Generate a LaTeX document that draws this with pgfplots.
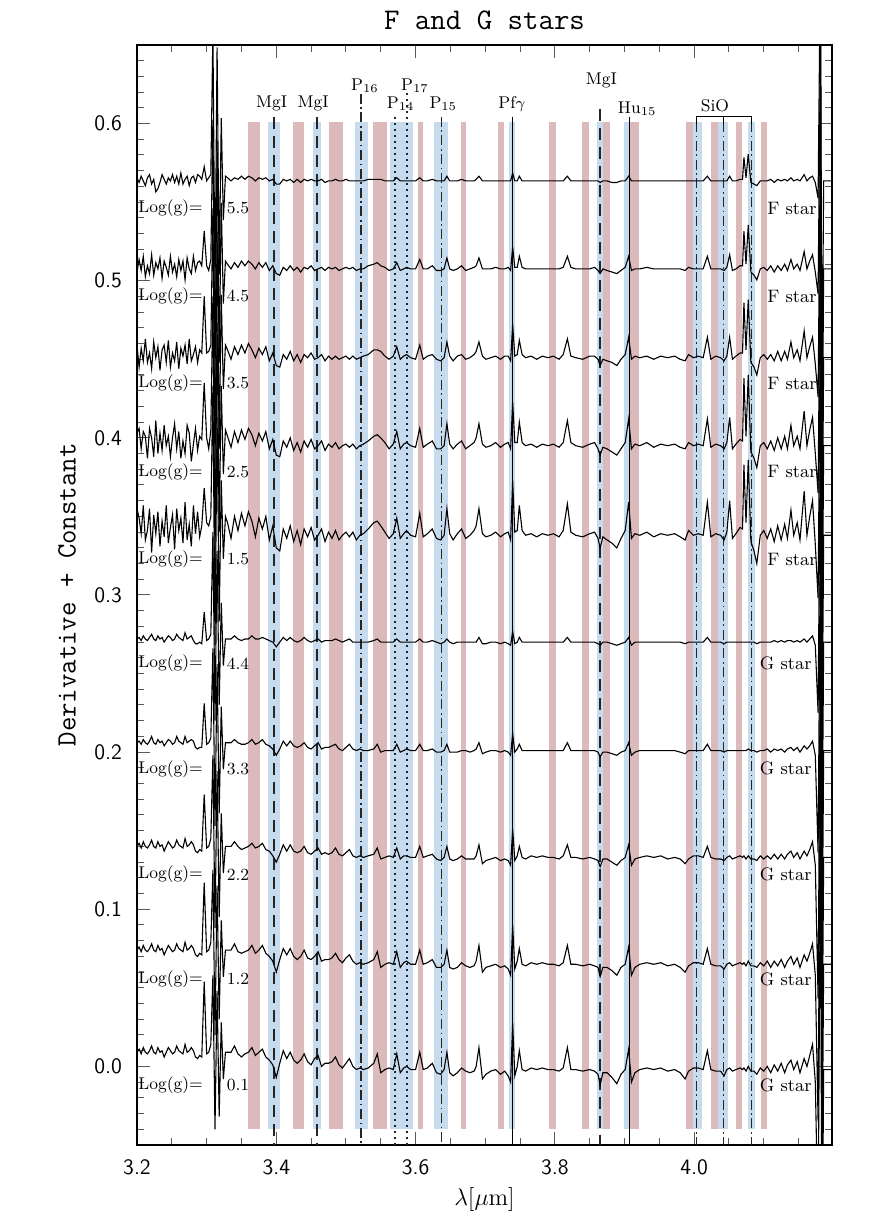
\documentclass[border=0pt]{standalone}
\usepackage{pgfplots}
\pgfplotsset{compat=1.18}
\usepackage{pgfplotstable}
\usetikzlibrary{calc}
\definecolor{bandP}{RGB}{220,185,187}
\definecolor{bandB}{RGB}{198,219,238}
\tikzset{
 dashL/.style={dash pattern=on 6pt off 3.5pt, line width=0.8pt},
 dashdotL/.style={dash pattern=on 5pt off 1.8pt on 0.8pt off 1.8pt, line width=0.8pt},
 dotL/.style={dash pattern=on 1pt off 2pt, line width=0.9pt},
}
% deviations in units of 0.001 (Derivative), constant offsets added per spectrum
\pgfplotstableread{
x f55 f45 f35 f25 f15 g44 g33 g22 g12 g01
3.200 2 -2 8 8 17 2 5 7 9 11
3.203 -1 6 -6 11 11 3 6 9 11 13
3.206 3 -1 6 -2 1 1 4 6 8 10
3.209 0 8 -2 9 19 4 7 10 12 14
3.212 -3 -5 12 6 -3 2 5 7 9 11
3.215 2 2 -3 -8 3 1 4 6 8 10
3.218 4 -3 3 11 17 3 6 8 10 12
3.221 -2 9 -7 5 -11 5 9 11 13 15
3.224 1 -4 10 -7 13 2 5 7 9 11
3.227 -7 4 0 16 1 1 4 6 8 10
3.230 -5 0 7 -5 15 4 7 10 12 14
3.233 -1 7 -8 8 -7 2 5 7 9 11
3.236 4 -6 5 -3 9 3 6 8 10 12
3.239 1 5 8 13 -1 0 3 4 6 8
3.242 -2 1 -3 0 19 2 5 7 9 11
3.245 2 -4 11 6 -5 4 7 10 12 14
3.248 0 8 -6 -7 5 3 6 8 10 12
3.251 4 -2 3 5 13 1 4 6 8 10
3.254 -1 3 -2 14 -9 2 5 7 9 11
3.257 3 -5 10 -2 17 5 9 11 13 15
3.260 -2 6 -7 9 3 3 6 8 10 12
3.263 5 -1 6 -8 11 2 5 7 9 11
3.266 -2 5 1 3 -5 1 4 6 8 10
3.269 1 -7 8 -5 21 6 9 12 14 16
3.272 3 7 -4 13 -3 2 5 7 9 11
3.275 -3 0 12 8 7 3 6 8 10 12
3.278 2 -3 -2 -10 -7 4 7 10 12 14
3.281 3 8 2 1 19 1 6 8 10 12
3.284 -1 -1 7 11 1 -1 2 4 6 8
3.287 4 4 -3 -3 15 -1 1 3 5 7
3.290 3 5 5 6 -1 0 2 5 7 9
3.293 1 2 3 4 6 -1 2 4 6 8
3.2965 9 24 39 40 30 19 30 40 52 56
3.300 0 2 3 5 8 1 4 6 8 10
3.303 2 -1 4 -2 6 2 5 7 9 11
3.306 4 6 8 10 12 5 8 12 14 16
3.309 95 95 95 95 95 70 65 65 60 60
3.312 -70 -72 -70 -72 -70 -50 -48 -45 -45 -38
3.315 85 82 80 78 75 58 55 55 50 50
3.318 -60 -60 -58 -55 -55 -40 -40 -38 -35 -30
3.321 40 42 40 38 35 25 28 28 28 30
3.324 -25 -22 -20 -18 -15 -15 -12 -10 -8 -6
3.327 3 5 8 10 12 2 5 7 9 11
3.330 2 3 5 6 8 2 5 7 9 11
3.335 0 0 -1 -1 -2 2 5 7 9 11
3.340 2 4 7 9 12 4 7 10 13 15
3.345 1 1 2 2 3 2 5 7 8 10
3.350 3 5 8 10 14 1 4 5 7 8
3.355 1 2 3 4 6 2 4 6 8 10
3.360 3 5 9 11 15 2 5 7 9 11
3.365 2 3 5 7 9 4 7 9 12 14
3.370 0 0 0 0 -1 2 4 6 7 9
3.375 2 4 6 8 11 2 5 7 9 11
3.380 1 1 2 3 4 3 7 9 12 13
3.385 2 4 7 9 12 2 4 5 7 8
3.390 0 -1 -2 -2 -3 1 3 4 5 6
3.395 1 2 3 4 6 0 1 1 2 3
3.400 -2 -3 -5 -6 -8 -3 -3 -3 -5 -5
3.405 -2 -4 -6 -7 -10 0 1 2 3 4
3.410 1 1 2 3 4 3 6 8 10 12
3.415 0 -1 -1 -1 -2 1 3 4 6 7
3.420 1 2 4 5 6 3 6 8 10 11
3.425 -1 -1 -2 -3 -4 1 3 4 5 6
3.430 1 1 2 2 3 0 2 3 3 4
3.435 -1 -2 -3 -4 -6 1 3 4 5 6
3.440 1 1 2 3 4 3 5 7 9 10
3.445 0 0 0 -1 -1 1 2 3 4 5
3.450 1 2 3 4 5 0 1 2 3 3
3.455 0 -1 -1 -2 -3 1 3 4 5 7
3.460 0 0 0 0 0 2 5 6 8 9
3.465 1 1 2 3 4 0 1 2 2 2
3.470 -1 -1 -2 -3 -4 1 2 3 3 4
3.475 0 1 1 1 2 1 2 2 3 4
3.480 0 0 -1 -1 -2 1 3 3 4 5
3.485 1 1 1 2 3 2 4 6 7 8
3.490 0 -1 -1 -2 -3 1 1 2 3 3
3.495 0 0 0 0 0 0 0 1 1 1
3.500 1 1 1 1 2 1 2 3 4 4
3.505 0 0 -1 -1 -1 2 4 5 6 7
3.510 0 1 1 1 2 0 1 1 2 2
3.515 0 -1 -1 -2 -3 0 0 0 0 0
3.520 0 0 0 0 0 0 1 1 1 1
3.525 0 0 1 1 1 0 0 0 0 0
3.532 1 2 2 3 4 0 0 1 1 1
3.540 1 3 5 6 8 1 1 2 3 4
3.545 1 4 5 7 9 2 4 6 8 10
3.550 1 2 4 5 6 0 -1 -1 -2 -2
3.556 0 1 1 2 2 0 0 0 0 0
3.562 0 -1 -1 -2 -2 0 0 1 1 1
3.568 0 0 1 1 1 0 0 0 0 0
3.573 2 4 7 9 11 2 4 6 8 10
3.578 0 -1 -1 -2 -2 0 -1 -1 -2 -2
3.583 0 0 1 1 1 0 0 1 1 1
3.587 0 1 2 2 3 0 1 1 2 2
3.593 0 0 0 0 0 0 0 0 0 0
3.600 0 0 -1 -1 -1 0 0 0 0 0
3.606 2 6 8 11 14 2 4 7 9 11
3.611 0 0 -1 -1 -1 0 0 0 0 0
3.617 0 0 1 1 1 0 0 1 1 1
3.624 1 2 2 3 4 1 1 2 3 4
3.630 0 -1 -1 -2 -2 0 -1 -1 -2 -2
3.636 0 -1 -2 -2 -3 -1 -1 -2 -2 -3
3.641 0 0 0 0 0 0 0 0 0 0
3.645 3 7 10 14 17 2 4 7 9 11
3.649 0 0 1 1 1 0 -1 -1 -2 -2
3.654 0 -1 -2 -2 -3 -1 -1 -2 -3 -4
3.660 0 0 1 1 1 0 -1 -1 -2 -2
3.666 1 2 2 3 4 0 0 1 1 1
3.672 0 -1 -1 -2 -2 0 0 -1 -1 -1
3.678 0 0 0 0 0 0 -1 -1 -2 -2
3.684 0 1 2 2 3 0 0 -1 -1 -1
3.687 1 2 4 5 6 0 1 1 2 2
3.691 3 7 10 14 17 3 5 8 12 14
3.696 0 0 1 1 1 -1 -2 -4 -5 -6
3.701 0 0 -1 -1 -1 -1 -1 -2 -2 -3
3.708 0 0 0 0 0 0 0 -1 -1 -1
3.715 0 1 1 2 2 0 0 0 0 0
3.722 0 0 -1 -1 -1 -1 -1 -2 -2 -3
3.728 0 0 1 1 1 0 0 -1 -1 -1
3.733 0 1 1 2 2 -1 -1 -2 -3 -4
3.7365 0 -1 -2 -2 -3 -2 -3 -5 -7 -8
3.7394 5 14 21 28 35 7 11 18 25 30
3.7425 0 1 1 2 2 -1 -1 -2 -3 -4
3.746 0 1 2 2 3 0 1 1 2 2
3.749 3 8 11 15 19 3 4 7 10 12
3.753 0 1 2 2 3 0 0 0 0 0
3.758 0 0 0 0 0 0 0 -1 -1 -1
3.766 0 0 1 1 1 0 0 1 1 1
3.774 0 0 -1 -1 -1 0 0 0 0 0
3.782 0 0 1 1 1 0 0 1 1 1
3.790 0 0 0 0 0 0 0 0 0 0
3.798 0 0 1 1 1 0 0 0 0 0
3.806 0 0 -1 -1 -1 0 0 -1 -1 -1
3.812 0 1 2 2 3 0 0 1 1 1
3.818 3 8 12 16 20 3 5 8 12 14
3.823 0 1 1 2 2 0 0 0 0 0
3.830 0 0 0 0 0 0 0 0 0 0
3.840 0 0 -1 -1 -1 0 0 -1 -1 -1
3.850 0 0 1 1 1 0 0 0 0 0
3.857 0 1 1 2 2 0 0 -1 -1 -1
3.862 0 -1 -1 -2 -2 -1 -1 -2 -2 -3
3.865 -1 -3 -5 -6 -8 -2 -4 -6 -8 -10
3.869 0 0 -1 -1 -1 0 -1 -1 -2 -2
3.875 0 -1 -2 -2 -3 0 -1 -1 -2 -2
3.882 -1 -2 -3 -4 -5 -1 -2 -3 -4 -5
3.889 -1 -3 -5 -6 -8 -2 -3 -5 -7 -9
3.895 0 -1 -1 -2 -2 -1 -1 -2 -2 -3
3.901 0 1 2 2 3 0 0 0 0 0
3.906 3 8 13 17 21 3 5 8 11 13
3.910 0 -1 -1 -2 -2 -2 -3 -5 -7 -8
3.915 0 0 1 1 1 0 -1 -1 -2 -2
3.922 0 0 0 0 0 0 0 0 0 0
3.932 0 1 1 2 2 0 0 1 1 1
3.942 0 0 -1 -1 -1 0 0 0 0 0
3.952 0 0 1 1 1 0 0 1 1 1
3.962 0 0 0 0 0 0 0 -1 -1 -1
3.972 0 0 1 1 1 0 0 0 0 0
3.980 0 0 -1 -1 -1 0 -1 -1 -2 -2
3.987 0 -1 -2 -2 -3 -1 -2 -4 -5 -6
3.992 0 1 2 2 3 0 0 -1 -1 -1
3.999 0 0 0 0 0 0 0 1 1 1
4.006 0 0 1 1 1 0 0 1 1 1
4.013 0 0 0 0 0 0 0 0 0 0
4.019 3 8 13 17 21 3 4 7 10 12
4.024 0 0 -1 -1 -1 0 0 0 0 0
4.031 0 0 1 1 1 0 0 -1 -1 -1
4.038 0 0 0 0 0 0 0 -1 -1 -1
4.043 0 -1 -2 -2 -3 -1 -1 -2 -3 -4
4.047 0 1 1 2 2 0 0 0 0 0
4.051 3 9 13 18 22 0 0 1 1 1
4.055 0 -1 -1 -2 -2 0 0 -1 -1 -1
4.060 0 0 1 1 1 0 0 0 0 0
4.066 1 2 3 4 5 0 0 1 1 1
4.0695 1 2 3 3 4 0 0 0 0 0
4.0715 15 24 35 43 45 0 0 1 1 1
4.0745 2 3 5 6 8 0 0 -1 -1 -1
4.0777 17 28 37 45 48 0 1 1 2 2
4.0815 -1 -2 -3 -4 -4 0 0 -1 -1 -1
4.086 -2 -4 -6 -8 -10 0 0 -1 -1 -1
4.090 -3 -7 -11 -14 -18 -1 -1 -2 -2 -3
4.095 0 0 0 0 0 0 0 1 1 1
4.100 0 1 2 2 3 0 0 -1 -1 -1
4.105 0 -1 -1 -2 -2 0 1 1 2 2
4.110 1 2 2 3 4 0 -1 -1 -2 -2
4.115 -1 -2 -2 -3 -4 1 1 2 2 3
4.120 1 2 4 5 6 0 0 -1 -1 -1
4.125 0 -1 -2 -2 -3 1 1 2 3 4
4.130 1 3 4 6 7 0 -1 -1 -2 -2
4.134 0 -1 -1 -2 -2 1 1 2 2 3
4.139 2 6 10 13 16 1 2 4 5 6
4.143 0 0 0 0 0 0 0 0 0 0
4.148 1 3 5 6 8 1 2 3 4 5
4.152 0 -1 -2 -2 -3 0 -1 -1 -2 -2
4.158 4 11 17 22 28 2 3 4 6 7
4.162 0 0 0 0 0 0 1 1 2 2
4.166 2 5 7 10 12 2 3 5 7 9
4.170 3 9 13 18 22 4 6 10 13 16
4.174 -1 -2 -4 -5 -6 -2 -3 -5 -7 -8
4.178 -11 -16 -25 -30 -40 -45 -65 -90 -100 -100
4.1815 150 150 150 150 150 150 150 150 150 150
4.1835 -150 -150 -150 -150 -150 -150 -150 -150 -150 -150
4.186 0 0 0 0 0 0 0 0 0 0
4.200 0 0 0 0 0 0 0 0 0 0
}\spec
\newcommand{\band}[3]{\addplot[fill=#3,draw=none] coordinates {(#1,-0.04) (#2,-0.04) (#2,0.601) (#1,0.601)} -- cycle;}
\newcommand{\lblf}{\fontsize{8.5}{10}\selectfont}
\newcommand{\starf}{\fontsize{9}{10}\selectfont}
\begin{document}
\begin{tikzpicture}
\begin{axis}[
  scale only axis, width=347.5pt, height=550pt,
  xmin=3.2, xmax=4.198, ymin=-0.05, ymax=0.65,
  no markers,
  axis line style={line width=0.6pt},
  xtick={3.2,3.4,3.6,3.8,4.0},
  minor xtick={3.25,3.3,3.35,3.45,3.5,3.55,3.65,3.7,3.75,3.85,3.9,3.95,4.05,4.1,4.15},
  ytick={0,0.1,0.2,0.3,0.4,0.5,0.6},
  minor ytick={-0.04,-0.03,...,0.645},
  tick align=inside,
  major tick length=6.5pt, minor tick length=3.5pt,
  tick style={line width=0.5pt, color=black!65},
  /pgf/number format/fixed, /pgf/number format/fixed zerofill,
  /pgf/number format/precision=1, /pgf/number format/assume math mode=true,
  ticklabel style={font=\sffamily\fontsize{11}{13}\selectfont},
  xticklabel style={yshift=-4pt},
  yticklabel style={xshift=-4pt},
  xlabel={$\lambda[\mu\mathrm{m}]$},
  xlabel style={at={(axis description cs:0.5,0)}, anchor=center, yshift=-27.5pt, font=\fontsize{13}{15}\selectfont},
  ylabel={Derivative + Constant},
  ylabel style={at={(axis description cs:-0.1007,0.5)}, anchor=center, font=\ttfamily\fontsize{14}{16}\selectfont},
  title={F and G stars},
  title style={at={(axis description cs:0.5,1)}, anchor=center, yshift=6.5pt, font=\ttfamily\fontsize{15}{17}\selectfont},
]
% bands
\band{3.360}{3.376}{bandP}
\band{3.388}{3.405}{bandB}
\band{3.424}{3.440}{bandP}
\band{3.453}{3.464}{bandB}
\band{3.476}{3.496}{bandP}
\band{3.513}{3.531}{bandB}
\band{3.539}{3.559}{bandP}
\band{3.564}{3.597}{bandB}
\band{3.604}{3.611}{bandP}
\band{3.627}{3.647}{bandB}
\band{3.665}{3.672}{bandP}
\band{3.718}{3.727}{bandP}
\band{3.7345}{3.743}{bandB}
\band{3.792}{3.802}{bandP}
\band{3.839}{3.849}{bandP}
\band{3.861}{3.8695}{bandB}
\band{3.8695}{3.879}{bandP}
\band{3.899}{3.908}{bandB}
\band{3.908}{3.921}{bandP}
\band{3.989}{3.998}{bandP}
\band{3.998}{4.012}{bandB}
\band{4.024}{4.034}{bandP}
\band{4.034}{4.049}{bandB}
\band{4.060}{4.069}{bandP}
\band{4.078}{4.088}{bandB}
\band{4.096}{4.104}{bandP}
% line markers
\addplot[black!85, dashL] coordinates {(3.3967,0.6044) (3.3967,-0.05)};
\addplot[black!85, dashL] coordinates {(3.4584,0.6044) (3.4584,-0.05)};
\addplot[black!85, dashdotL] coordinates {(3.5216,0.619) (3.5216,-0.05)};
\addplot[black!85, dotL] coordinates {(3.570,0.6044) (3.570,-0.05)};
\addplot[black!85, dotL] coordinates {(3.5872,0.6197) (3.5872,-0.05)};
\addplot[black!85, dashdotL] coordinates {(3.637,0.6044) (3.637,-0.05)};
\addplot[black, line width=0.7pt] coordinates {(3.7389,0.6044) (3.7389,-0.05)};
\addplot[black!85, dashL] coordinates {(3.865,0.6095) (3.865,-0.05)};
\addplot[black, line width=0.7pt] coordinates {(3.9068,0.6044) (3.9068,-0.05)};
\addplot[black!85, dashdotL] coordinates {(4.0036,0.601) (4.0036,-0.05)};
\addplot[black!85, dashdotL] coordinates {(4.0424,0.601) (4.0424,-0.05)};
\addplot[black!85, dashdotL] coordinates {(4.0826,0.601) (4.0826,-0.05)};
\addplot[black, line width=0.6pt] coordinates {(4.0036,0.600) (4.0036,0.6044) (4.0826,0.6044) (4.0826,0.600)};
\addplot[black, line width=0.6pt] coordinates {(4.0424,0.6044) (4.0424,0.600)};
% spectra
\addplot[black, line width=0.55pt] table[x=x, y expr=\thisrow{f55}/1000+0.5635] {\spec};
\addplot[black, line width=0.55pt] table[x=x, y expr=\thisrow{f45}/1000+0.5075] {\spec};
\addplot[black, line width=0.55pt] table[x=x, y expr=\thisrow{f35}/1000+0.451] {\spec};
\addplot[black, line width=0.55pt] table[x=x, y expr=\thisrow{f25}/1000+0.395] {\spec};
\addplot[black, line width=0.55pt] table[x=x, y expr=\thisrow{f15}/1000+0.338] {\spec};
\addplot[black, line width=0.55pt] table[x=x, y expr=\thisrow{g44}/1000+0.270] {\spec};
\addplot[black, line width=0.55pt] table[x=x, y expr=\thisrow{g33}/1000+0.201] {\spec};
\addplot[black, line width=0.55pt] table[x=x, y expr=\thisrow{g22}/1000+0.133] {\spec};
\addplot[black, line width=0.55pt] table[x=x, y expr=\thisrow{g12}/1000+0.065] {\spec};
\addplot[black, line width=0.55pt] table[x=x, y expr=\thisrow{g01}/1000-0.002] {\spec};
% line labels
\node[font=\lblf] at (axis cs:3.3934,0.6131) {MgI};
\node[font=\lblf] at (axis cs:3.4531,0.6131) {MgI};
\node[font=\lblf] at (axis cs:3.5273,0.6243) {P$_{16}$};
\node[font=\lblf] at (axis cs:3.5786,0.6127) {P$_{14}$};
\node[font=\lblf] at (axis cs:3.5991,0.6239) {P$_{17}$};
\node[font=\lblf] at (axis cs:3.6398,0.6127) {P$_{15}$};
\node[font=\lblf] at (axis cs:3.7384,0.6127) {Pf$\gamma$};
\node[font=\lblf] at (axis cs:3.8667,0.6275) {MgI};
\node[font=\lblf] at (axis cs:3.9183,0.6095) {Hu$_{15}$};
\node[font=\lblf] at (axis cs:4.0299,0.6116) {SiO};
% gravity labels (F stars)
\node[font=\lblf, inner sep=0.5pt, anchor=west] at (axis cs:3.2,0.546) {Log(g)=};
\node[font=\lblf, inner sep=0.5pt] at (axis cs:3.345,0.546) {5.5};
\node[font=\starf, inner sep=0.5pt, anchor=east] at (axis cs:4.1778,0.546) {F star};
\node[font=\lblf, inner sep=0.5pt, anchor=west] at (axis cs:3.2,0.490) {Log(g)=};
\node[font=\lblf, inner sep=0.5pt] at (axis cs:3.345,0.490) {4.5};
\node[font=\starf, inner sep=0.5pt, anchor=east] at (axis cs:4.1778,0.490) {F star};
\node[font=\lblf, inner sep=0.5pt, anchor=west] at (axis cs:3.2,0.4346) {Log(g)=};
\node[font=\lblf, inner sep=0.5pt] at (axis cs:3.345,0.4346) {3.5};
\node[font=\starf, inner sep=0.5pt, anchor=east] at (axis cs:4.1778,0.4346) {F star};
\node[font=\lblf, inner sep=0.5pt, anchor=west] at (axis cs:3.2,0.3784) {Log(g)=};
\node[font=\lblf, inner sep=0.5pt] at (axis cs:3.345,0.3784) {2.5};
\node[font=\starf, inner sep=0.5pt, anchor=east] at (axis cs:4.1778,0.3784) {F star};
\node[font=\lblf, inner sep=0.5pt, anchor=west] at (axis cs:3.2,0.3226) {Log(g)=};
\node[font=\lblf, inner sep=0.5pt] at (axis cs:3.345,0.3226) {1.5};
\node[font=\starf, inner sep=0.5pt, anchor=east] at (axis cs:4.1778,0.3226) {F star};
% gravity labels (G stars)
\node[font=\lblf, inner sep=0.5pt, anchor=west] at (axis cs:3.2,0.2564) {Log(g)=};
\node[font=\lblf, inner sep=0.5pt] at (axis cs:3.345,0.2564) {4.4};
\node[font=\starf, inner sep=0.5pt, anchor=east] at (axis cs:4.1706,0.2564) {G star};
\node[font=\lblf, inner sep=0.5pt, anchor=west] at (axis cs:3.2,0.1894) {Log(g)=};
\node[font=\lblf, inner sep=0.5pt] at (axis cs:3.345,0.1894) {3.3};
\node[font=\starf, inner sep=0.5pt, anchor=east] at (axis cs:4.1706,0.1894) {G star};
\node[font=\lblf, inner sep=0.5pt, anchor=west] at (axis cs:3.2,0.1222) {Log(g)=};
\node[font=\lblf, inner sep=0.5pt] at (axis cs:3.345,0.1222) {2.2};
\node[font=\starf, inner sep=0.5pt, anchor=east] at (axis cs:4.1706,0.1222) {G star};
\node[font=\lblf, inner sep=0.5pt, anchor=west] at (axis cs:3.2,0.0556) {Log(g)=};
\node[font=\lblf, inner sep=0.5pt] at (axis cs:3.345,0.0556) {1.2};
\node[font=\starf, inner sep=0.5pt, anchor=east] at (axis cs:4.1706,0.0556) {G star};
\node[font=\lblf, inner sep=0.5pt, anchor=west] at (axis cs:3.2,-0.012) {Log(g)=};
\node[font=\lblf, inner sep=0.5pt] at (axis cs:3.345,-0.012) {0.1};
\node[font=\starf, inner sep=0.5pt, anchor=east] at (axis cs:4.1706,-0.012) {G star};
\end{axis}
\pgfresetboundingbox
\path[use as bounding box] ($(current axis.south west)+(-68.5pt,-43.5pt)$) rectangle ($(current axis.north east)+(20pt,22.5pt)$);
\end{tikzpicture}
\end{document}
